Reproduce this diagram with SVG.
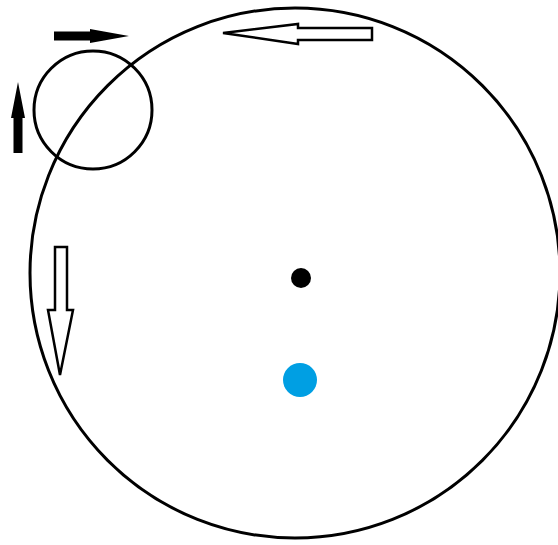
<svg xmlns="http://www.w3.org/2000/svg" width="558" height="545" viewBox="0 0 558 545">
<style>
.ring{fill:none;stroke:#000;stroke-width:3}
.solid{fill:#000;stroke:none}
.hollow{fill:#fff;stroke:#000;stroke-width:2.5;stroke-linejoin:miter}
</style>
<rect width="558" height="545" fill="#fff"/>
<g id="big-circle"><circle class="ring" cx="295" cy="273" r="265"/></g>
<g id="small-circle"><circle class="ring" cx="93" cy="110" r="59"/></g>
<g id="center-dot"><circle cx="301" cy="278" r="10" fill="#000"/></g>
<g id="blue-dot"><circle cx="300" cy="380" r="17" fill="#009FE3"/></g>
<g id="connectors">
<path class="solid" d="M54,31.5 L90,31.5 L90,29 L129,36 L90,43 L90,40.5 L54,40.5 Z"/>
<path class="solid" d="M13.5,153 L13.5,118 L11,118 L18,82 L25,118 L22.5,118 L22.5,153 Z"/>
<path class="hollow" d="M372,28 L298,28 L298,24 L223,33 L298,44 L298,40 L372,40 Z"/>
<path class="hollow" d="M55,247 L67,247 L67,310 L73,310 L60,375 L48,310 L55,310 Z"/>
</g>
</svg>
